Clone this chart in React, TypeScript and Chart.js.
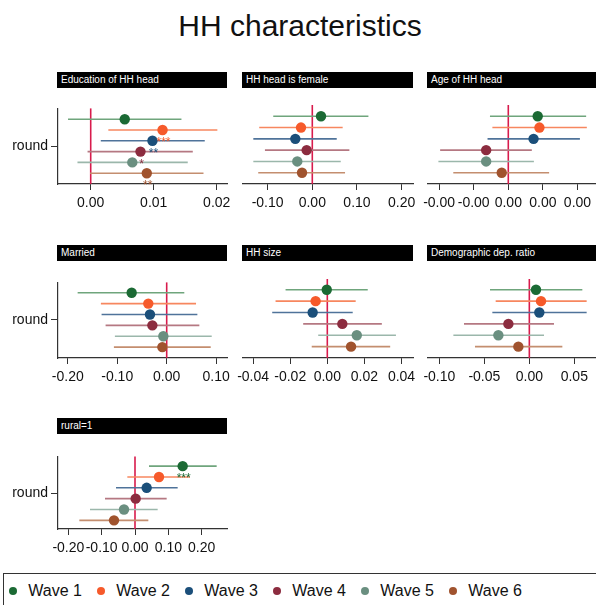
import React, { useEffect, useRef } from 'react';
import { Chart, registerables } from 'chart.js';

Chart.register(...registerables);

const FONT = 'Arial, "Liberation Sans", Helvetica, sans-serif';

// ---------- data ----------
const chartTitle = 'HH characteristics';
const waveLabels = ['Wave 1', 'Wave 2', 'Wave 3', 'Wave 4', 'Wave 5', 'Wave 6'];
const yTickLabel = 'round';

const panelTitles = [
  'Education of HH head',
  'HH head is female',
  'Age of HH head',
  'Married',
  'HH size',
  'Demographic dep. ratio',
  'rural=1',
];

const educEst = [0.0054, 0.0114, 0.0098, 0.0079, 0.0066, 0.0089];
const educLo = [-0.0036, 0.0028, 0.0016, -0.0005, -0.0021, -0.0001];
const educHi = [0.0144, 0.0201, 0.0181, 0.0162, 0.0154, 0.0179];
const educStars = ['', '***', '**', '*', '', '**'];
const educTicks = [0, 0.01, 0.02];

const femaleEst = [0.0195, -0.0253, -0.038, -0.0126, -0.0336, -0.023];
const femaleLo = [-0.0874, -0.1188, -0.132, -0.106, -0.132, -0.121];
const femaleHi = [0.1256, 0.068, 0.0547, 0.083, 0.0637, 0.0733];
const femaleStars = ['', '', '', '', '', ''];
const femaleTicks = [-0.1, 0, 0.1, 0.2];

const ageEst = [0.00085, 0.0009, 0.00073, -0.00064, -0.00064, -0.00019];
const ageLo = [-0.00053, -0.00046, -0.0006, -0.00197, -0.00202, -0.00159];
const ageHi = [0.00225, 0.00227, 0.00207, 0.00068, 0.00074, 0.00118];
const ageStars = ['', '', '', '', '', ''];
const ageTicks = [-0.002, -0.001, 0, 0.001, 0.002];

const marriedEst = [-0.0708, -0.0372, -0.0338, -0.029, -0.0068, -0.0088];
const marriedLo = [-0.18, -0.133, -0.1316, -0.1235, -0.1047, -0.1067];
const marriedHi = [0.0356, 0.0593, 0.062, 0.066, 0.091, 0.089];
const marriedStars = ['', '', '', '', '', ''];
const marriedTicks = [-0.2, -0.1, 0, 0.1];

const sizeEst = [-0.0003, -0.0063, -0.0079, 0.0081, 0.0159, 0.0128];
const sizeLo = [-0.0225, -0.0279, -0.0297, -0.013, -0.0049, -0.0084];
const sizeHi = [0.0218, 0.0153, 0.0137, 0.0294, 0.037, 0.0339];
const sizeStars = ['', '', '', '', '', ''];
const sizeTicks = [-0.04, -0.02, 0, 0.02, 0.04];

const depEst = [0.0074, 0.013, 0.0111, -0.0233, -0.0344, -0.0122];
const depLo = [-0.0437, -0.0374, -0.0411, -0.0726, -0.0844, -0.0604];
const depHi = [0.0589, 0.0637, 0.0637, 0.0274, 0.0163, 0.0367];
const depStars = ['', '', '', '', '', ''];
const depTicks = [-0.1, -0.05, 0, 0.05];

const ruralEst = [0.143, 0.072, 0.035, 0.002, -0.033, -0.063];
const ruralLo = [0.042, -0.023, -0.057, -0.09, -0.135, -0.167];
const ruralHi = [0.245, 0.165, 0.128, 0.095, 0.068, 0.04];
const ruralStars = ['***', '', '', '', '', ''];
const ruralTicks = [-0.2, -0.1, 0, 0.1, 0.2];

// ---------- styles ----------
const waveColors = ['#1b6a34', '#f65a2b', '#1b4f7a', '#8c2c3f', '#6a8f80', '#a0532e'];
const ciColors = ['#6fa57c', '#f7875f', '#4f739a', '#b57882', '#9bb7ab', '#c48e6f'];
const zeroColor = '#d81b4c';
const axisColor = '#333333';

type Spec = {
  title: string;
  est: number[];
  lo: number[];
  hi: number[];
  stars: string[];
  ticks: number[];
  xMin: number;
  xMax: number;
  col: number;
  row: number;
};

const panels: Spec[] = [
  { title: panelTitles[0], est: educEst, lo: educLo, hi: educHi, stars: educStars, ticks: educTicks, xMin: -0.00519, xMax: 0.02163, col: 0, row: 0 },
  { title: panelTitles[1], est: femaleEst, lo: femaleLo, hi: femaleHi, stars: femaleStars, ticks: femaleTicks, xMin: -0.1551, xMax: 0.2254, col: 1, row: 0 },
  { title: panelTitles[2], est: ageEst, lo: ageLo, hi: ageHi, stars: ageStars, ticks: ageTicks, xMin: -0.002321, xMax: 0.002564, col: 2, row: 0 },
  { title: panelTitles[3], est: marriedEst, lo: marriedLo, hi: marriedHi, stars: marriedStars, ticks: marriedTicks, xMin: -0.2197, xMax: 0.1219, col: 0, row: 1 },
  { title: panelTitles[4], est: sizeEst, lo: sizeLo, hi: sizeHi, stars: sizeStars, ticks: sizeTicks, xMin: -0.04545, xMax: 0.0462, col: 1, row: 1 },
  { title: panelTitles[5], est: depEst, lo: depLo, hi: depHi, stars: depStars, ticks: depTicks, xMin: -0.1126, xMax: 0.0752, col: 2, row: 1 },
  { title: panelTitles[6], est: ruralEst, lo: ruralLo, hi: ruralHi, stars: ruralStars, ticks: ruralTicks, xMin: -0.231, xMax: 0.276, col: 0, row: 2 },
];

// layout
const colLeft = [58, 243, 428];
const colRight = [227, 413, 597];
const rowTop = [105, 279, 453];
const rowBottom = [184, 358, 529];
const rowYMin = [0, 0.05, 0.1];
const rowYMax = [7, 7, 6.8];
const headerTop = [72, 245, 418];

const zeroLinePlugin = {
  id: 'zeroLine',
  beforeDatasetsDraw(chart: any) {
    const { ctx, chartArea, scales } = chart;
    const x = scales.x.getPixelForValue(0);
    ctx.save();
    ctx.strokeStyle = zeroColor;
    ctx.lineWidth = 1.6;
    ctx.beginPath();
    ctx.moveTo(x, chartArea.top);
    ctx.lineTo(x, chartArea.bottom);
    ctx.stroke();
    ctx.restore();
  },
};

function makeStarsPlugin(spec: Spec) {
  return {
    id: 'stars',
    afterDatasetsDraw(chart: any) {
      const { ctx, scales } = chart;
      ctx.save();
      ctx.font = `12px ${FONT}`;
      ctx.textAlign = 'center';
      ctx.textBaseline = 'alphabetic';
      spec.stars.forEach((s, i) => {
        if (!s) return;
        ctx.fillStyle = waveColors[i];
        ctx.fillText(s, scales.x.getPixelForValue(spec.est[i]) + 1, scales.y.getPixelForValue(i + 1) + 16);
      });
      ctx.restore();
    },
  };
}

function Panel({ spec }: { spec: Spec }) {
  const ref = useRef<HTMLCanvasElement>(null);
  const { col, row } = spec;
  const padL = col === 0 ? 0 : 25;
  const padR = 25;
  const padT = 8;
  const xAxisH = 32;
  const yAxisW = colLeft[0];
  const canvasLeft = col === 0 ? 0 : colLeft[col] - padL;
  const canvasW = colRight[col] + padR - canvasLeft;
  const canvasTop = rowTop[row] - padT;
  const canvasH = padT + (rowBottom[row] - rowTop[row]) + xAxisH;

  useEffect(() => {
    if (!ref.current) return;
    const datasets: any[] = [];
    waveLabels.forEach((lab, i) => {
      datasets.push({
        label: lab,
        data: [{ x: spec.est[i], y: i + 1 }],
        backgroundColor: waveColors[i],
        borderColor: waveColors[i],
        borderWidth: 0,
        pointRadius: 5.2,
        pointHoverRadius: 5.2,
        order: 0,
      });
    });
    waveLabels.forEach((lab, i) => {
      datasets.push({
        label: lab + ' CI',
        data: [
          { x: spec.lo[i], y: i + 1 },
          { x: spec.hi[i], y: i + 1 },
        ],
        showLine: true,
        borderColor: ciColors[i],
        backgroundColor: ciColors[i],
        borderWidth: 1.6,
        pointRadius: 0,
        pointHoverRadius: 0,
        order: 1,
      });
    });

    const chart = new Chart(ref.current, {
      type: 'scatter',
      data: { datasets },
      options: {
        animation: false,
        responsive: false,
        devicePixelRatio: 1,
        layout: { padding: { left: padL, right: padR, top: padT, bottom: 0 } },
        plugins: { legend: { display: false }, tooltip: { enabled: false } },
        scales: {
          x: {
            type: 'linear',
            min: spec.xMin,
            max: spec.xMax,
            afterBuildTicks: (s: any) => {
              s.ticks = spec.ticks.map((v) => ({ value: v }));
            },
            afterFit: (s: any) => {
              s.height = xAxisH;
            },
            grid: { drawOnChartArea: false, drawTicks: true, tickLength: 6, color: axisColor, lineWidth: 1 },
            border: { display: true, color: axisColor, width: 1.2 },
            ticks: {
              autoSkip: false,
              maxRotation: 0,
              minRotation: 0,
              padding: 5,
              color: '#111111',
              font: { family: FONT, size: 14 },
              callback: (v: any) => Number(v).toFixed(2),
            },
          },
          y: {
            type: 'linear',
            reverse: true,
            min: rowYMin[row],
            max: rowYMax[row],
            display: col === 0,
            afterBuildTicks: (s: any) => {
              s.ticks = [{ value: 3.5 }];
            },
            afterFit: (s: any) => {
              if (col === 0) s.width = yAxisW;
            },
            grid: { drawOnChartArea: false, drawTicks: true, tickLength: 7, color: axisColor, lineWidth: 1 },
            border: { display: true, color: axisColor, width: 1.2 },
            ticks: {
              padding: 3,
              color: '#111111',
              font: { family: FONT, size: 14 },
              callback: () => yTickLabel,
            },
          },
        },
      } as any,
      plugins: [zeroLinePlugin, makeStarsPlugin(spec)],
    });
    return () => chart.destroy();
  }, []);

  const headerLeft = colLeft[col] - 1;
  const headerW = colRight[col] - colLeft[col] + 1;

  return (
    <>
      <div
        style={{
          position: 'absolute',
          left: headerLeft,
          top: headerTop[row],
          width: headerW,
          height: 16,
          background: '#000',
          color: '#fff',
          font: `10px ${FONT}`,
          lineHeight: '16px',
          paddingLeft: 4,
          boxSizing: 'border-box',
          whiteSpace: 'nowrap',
          overflow: 'hidden',
        }}
      >
        {spec.title}
      </div>
      <canvas
        ref={ref}
        width={canvasW}
        height={canvasH}
        style={{ position: 'absolute', left: canvasLeft, top: canvasTop, width: canvasW, height: canvasH }}
      />
    </>
  );
}

export default function App() {
  return (
    <div
      style={{
        position: 'absolute',
        left: 0,
        top: 0,
        width: 596,
        height: 605,
        overflow: 'hidden',
        background: '#fff',
        fontFamily: FONT,
      }}
    >
      <div
        style={{
          position: 'absolute',
          left: 2,
          top: 11,
          width: 596,
          textAlign: 'center',
          font: `30px ${FONT}`,
          lineHeight: '30px',
          color: '#111',
        }}
      >
        {chartTitle}
      </div>
      {panels.map((p, i) => (
        <Panel key={i} spec={p} />
      ))}
      <div
        style={{
          position: 'absolute',
          left: 3,
          top: 573,
          width: 620,
          height: 50,
          border: '1.5px solid #333',
          boxSizing: 'border-box',
        }}
      />
      {waveLabels.map((lab, i) => (
        <React.Fragment key={lab}>
          <div
            style={{
              position: 'absolute',
              left: 13.3 + 88 * i - 4,
              top: 591 - 4,
              width: 8,
              height: 8,
              borderRadius: '50%',
              background: waveColors[i],
            }}
          />
          <div
            style={{
              position: 'absolute',
              left: 28.3 + 88 * i,
              top: 591 - 9,
              height: 20,
              lineHeight: '20px',
              font: `16px ${FONT}`,
              color: '#111',
              whiteSpace: 'nowrap',
            }}
          >
            {lab}
          </div>
        </React.Fragment>
      ))}
    </div>
  );
}
